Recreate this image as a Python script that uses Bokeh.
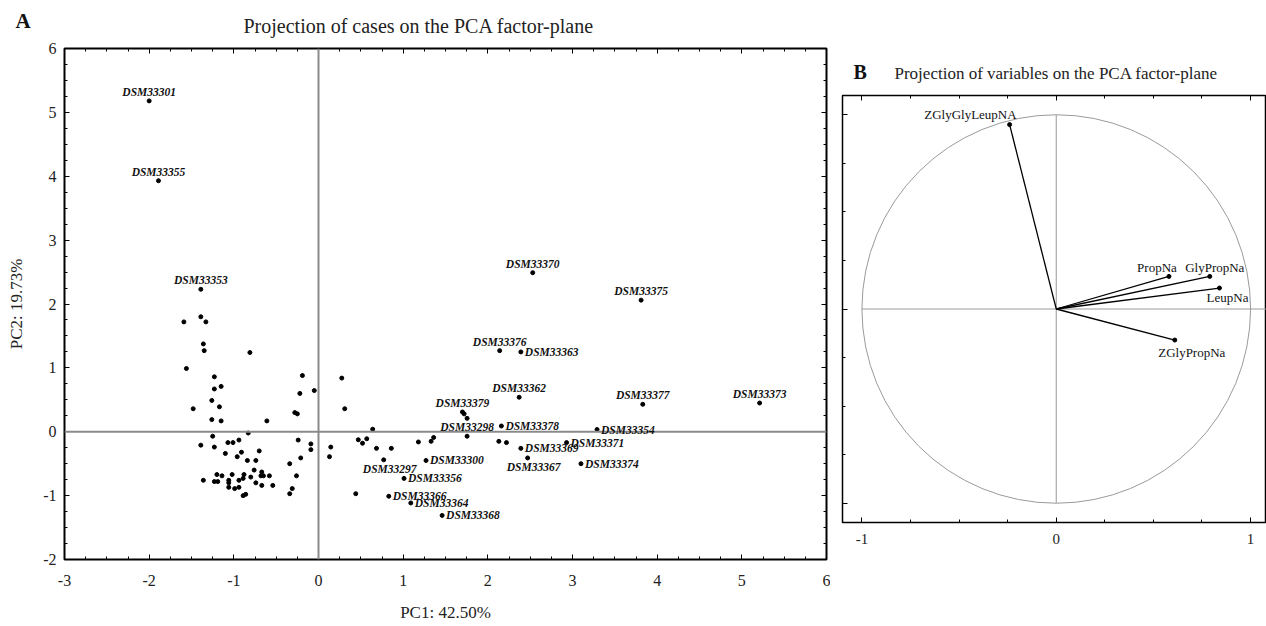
import numpy as np
from bokeh.plotting import figure
from bokeh.models import (Range1d, FixedTicker, LinearAxis, Span, Label, Title,
                          LabelSet, ColumnDataSource)
from bokeh.layouts import row
from bokeh.embed import file_html
from bokeh.resources import INLINE

# ---------------- Panel A data: case scores ----------------
case_names = ["DSM33301", "DSM33355", "DSM33353", "DSM33370", "DSM33375",
              "DSM33376", "DSM33363", "DSM33362", "DSM33377", "DSM33373",
              "DSM33379", "DSM33298", "DSM33378", "DSM33354", "DSM33371",
              "DSM33369", "DSM33367", "DSM33374", "DSM33300", "DSM33356",
              "DSM33366", "DSM33364", "DSM33368", "DSM33297"]
case_pc1 = [-2.00, -1.89, -1.39, 2.53, 3.81,
            2.14, 2.39, 2.37, 3.83, 5.21,
            1.70, 1.755, 2.16, 3.29, 2.93,
            2.39, 2.47, 3.10, 1.27, 1.01,
            0.83, 1.09, 1.46, 0.77]
case_pc2 = [5.18, 3.93, 2.23, 2.49, 2.06,
            1.27, 1.25, 0.54, 0.43, 0.45,
            0.31, -0.07, 0.09, 0.035, -0.17,
            -0.26, -0.41, -0.50, -0.45, -0.73,
            -1.01, -1.115, -1.31, -0.44]

other_pc1 = [-1.59, -1.39, -1.33, -1.36, -1.35, -0.81, -1.56, -1.23, -1.15, -1.23,
             -0.19, -0.05, -0.22, 0.275, 0.31, -1.48, -1.26, -1.17, -1.26, -1.15,
             -0.61, -0.28, -0.25, -0.83, -1.25, -1.39, -1.23, -1.07, -1.01, -0.94,
             -1.10, -0.91, -0.96, -0.70, -0.24, -0.09, -0.09, -0.21, 0.145, 0.13,
             -0.84, -0.74, -0.34, -0.76, -0.67, -1.20, -1.14, -1.02, -0.88, -0.68,
             -0.65, -0.58, -0.80, -0.26, -1.36, -1.23, -1.19, -1.06, -1.06, -0.94,
             -0.89, -0.74, -1.06, -0.99, -0.94, -0.67, -0.54, -0.31, -0.89, -0.86,
             -0.34, 0.44, 0.64, 0.47, 0.52, 0.57, 0.685, 0.86, 1.18, 1.33,
             1.36, 1.72, 1.755, 2.13, 2.22]
other_pc2 = [1.72, 1.80, 1.72, 1.375, 1.27, 1.24, 0.99, 0.86, 0.71, 0.67,
             0.88, 0.645, 0.60, 0.84, 0.36, 0.36, 0.49, 0.39, 0.19, 0.17,
             0.17, 0.30, 0.28, -0.02, -0.07, -0.21, -0.24, -0.17, -0.17, -0.13,
             -0.34, -0.32, -0.39, -0.30, -0.13, -0.19, -0.28, -0.41, -0.24, -0.39,
             -0.45, -0.45, -0.50, -0.60, -0.63, -0.67, -0.69, -0.67, -0.67, -0.69,
             -0.69, -0.69, -0.71, -0.69, -0.76, -0.78, -0.78, -0.76, -0.80, -0.76,
             -0.73, -0.80, -0.87, -0.89, -0.87, -0.84, -0.84, -0.89, -1.00, -0.98,
             -0.97, -0.97, 0.04, -0.125, -0.18, -0.11, -0.26, -0.26, -0.16, -0.15,
             -0.09, 0.28, 0.21, -0.15, -0.17]

x_ticks_a = [-3, -2, -1, 0, 1, 2, 3, 4, 5, 6]
y_ticks_a = [-2, -1, 0, 1, 2, 3, 4, 5, 6]
x_label_a = "PC1: 42.50%"
y_label_a = "PC2: 19.73%"
title_a = "Projection of cases on the PCA factor-plane"

# ---------------- Panel B data: variable loadings ----------------
variables = ["ZGlyGlyLeupNA", "PropNa", "GlyPropNa", "LeupNa", "ZGlyPropNa"]
load_pc1 = [-0.24, 0.58, 0.79, 0.84, 0.61]
load_pc2 = [0.95, 0.168, 0.168, 0.108, -0.16]
x_ticks_b = [-1, 0, 1]
title_b = "Projection of variables on the PCA factor-plane"

# ---------------- layout / style settings ----------------
SERIF = "Liberation Serif"
LABEL_SIDE = {"DSM33363": "right", "DSM33378": "right", "DSM33354": "right",
              "DSM33371": "right", "DSM33369": "right", "DSM33374": "right",
              "DSM33300": "right", "DSM33356": "right", "DSM33366": "right",
              "DSM33364": "right", "DSM33368": "right",
              "DSM33367": "below", "DSM33297": "below"}
SIDE_STYLE = {"above": dict(x_offset=0, y_offset=9, text_align="center"),
              "right": dict(x_offset=4, y_offset=0, text_align="left"),
              "below": dict(x_offset=6, y_offset=-9, text_align="center")}
VAR_LABEL_STYLE = {"ZGlyGlyLeupNA": (7, 10, "right"),
                   "PropNa": (-12, 9, "center"),
                   "GlyPropNa": (5, 9, "center"),
                   "LeupNa": (8, -9, "center"),
                   "ZGlyPropNa": (17, -12, "center")}


def style_axis(ax, fs, standoff, ticks=None, labels=True):
    ax.major_tick_in = 5
    ax.major_tick_out = 0
    ax.minor_tick_in = 3
    ax.minor_tick_out = 0
    ax.axis_line_color = "black"
    ax.major_tick_line_color = "black"
    ax.minor_tick_line_color = "black"
    ax.major_label_text_font = SERIF
    if labels:
        ax.major_label_text_color = "#222222"
        ax.major_label_text_font_size = fs
        ax.major_label_standoff = standoff
        if ticks is not None:
            ax.major_label_overrides = {t: str(t) for t in ticks}
    else:
        ax.major_label_text_color = None
        ax.major_label_text_font_size = "1px"
        ax.major_label_standoff = 0


def no_frame_align(p):
    if "frame_align" in p.properties():
        p.frame_align = False


def make_title(text, size, bold, offset, standoff):
    t = Title(text=text, align="left", offset=offset, text_font=SERIF,
              text_font_size=size, text_font_style="bold" if bold else "normal",
              text_color="#111111" if bold else "#222222")
    try:
        t.standoff = standoff
    except Exception:
        t.standoff = 0
    return t


# ================= Panel A =================
pA = figure(width=830, height=626, x_range=Range1d(-3, 6), y_range=Range1d(-2, 6),
            output_backend="svg", toolbar_location=None, title=None,
            min_border_left=64, min_border_right=4, min_border_top=48,
            min_border_bottom=67)
no_frame_align(pA)
pA.grid.visible = False
pA.outline_line_color = "black"
pA.outline_line_width = 2
pA.background_fill_color = "white"
pA.border_fill_color = "white"

xminor_a = [v / 4 for v in range(-12, 25) if v % 4 != 0]
yminor_a = [v / 4 for v in range(-8, 25) if v % 4 != 0]
pA.xaxis.ticker = FixedTicker(ticks=x_ticks_a, minor_ticks=xminor_a)
pA.yaxis.ticker = FixedTicker(ticks=y_ticks_a, minor_ticks=yminor_a)
for ax in pA.xaxis:
    style_axis(ax, "16px", 15, ticks=x_ticks_a)
    ax.axis_label = x_label_a
for ax in pA.yaxis:
    style_axis(ax, "16px", 8, ticks=y_ticks_a)
    ax.axis_label = y_label_a
for ax in list(pA.xaxis) + list(pA.yaxis):
    ax.axis_label_text_font = SERIF
    ax.axis_label_text_font_size = "17px"
    ax.axis_label_text_font_style = "normal"
    ax.axis_label_text_color = "#222222"
pA.xaxis.axis_label_standoff = 14
pA.yaxis.axis_label_standoff = 14
pA.yaxis.major_label_orientation = "horizontal"

top_a = LinearAxis(ticker=FixedTicker(ticks=x_ticks_a, minor_ticks=xminor_a))
style_axis(top_a, "1px", 0, labels=False)
pA.add_layout(top_a, "above")
right_a = LinearAxis(ticker=FixedTicker(ticks=y_ticks_a, minor_ticks=yminor_a))
style_axis(right_a, "1px", 0, labels=False)
pA.add_layout(right_a, "right")

# title row: main title nearest the frame, panel letter stacked outside it
pA.add_layout(make_title(title_a, "20px", False, 179, 24), "above")
pA.add_layout(make_title("A", "21px", True, -49, -64), "above")

pA.add_layout(Span(location=0, dimension="height", line_color="#8a8a8a", line_width=2))
pA.add_layout(Span(location=0, dimension="width", line_color="#8a8a8a", line_width=2))

pA.scatter(other_pc1, other_pc2, marker="circle", size=4, color="black")
pA.scatter(case_pc1, case_pc2, marker="circle", size=4, color="black")

for side, st in SIDE_STYLE.items():
    idx = [i for i, n in enumerate(case_names) if LABEL_SIDE.get(n, "above") == side]
    src = ColumnDataSource(dict(x=[case_pc1[i] for i in idx],
                                y=[case_pc2[i] for i in idx],
                                t=[case_names[i] for i in idx]))
    pA.add_layout(LabelSet(x="x", y="y", text="t", source=src,
                           x_offset=st["x_offset"], y_offset=st["y_offset"],
                           text_align=st["text_align"], text_baseline="middle",
                           text_font=SERIF, text_font_size="11.5px",
                           text_font_style="bold italic", text_color="#111111"))

# ================= Panel B =================
pB = figure(width=436, height=626, x_range=Range1d(-1.1, 1.082), y_range=Range1d(-1.1, 1.1),
            output_backend="svg", toolbar_location=None, title=None,
            min_border_left=12, min_border_right=0, min_border_top=95,
            min_border_bottom=104)
no_frame_align(pB)
pB.grid.visible = False
pB.outline_line_color = "black"
pB.outline_line_width = 1.5
pB.background_fill_color = "white"
pB.border_fill_color = "white"

minor_b = [-0.75, -0.5, -0.25, 0.25, 0.5, 0.75]
pB.xaxis.ticker = FixedTicker(ticks=x_ticks_b, minor_ticks=minor_b)
pB.yaxis.ticker = FixedTicker(ticks=x_ticks_b, minor_ticks=minor_b)
for ax in pB.xaxis:
    style_axis(ax, "15px", 11, ticks=x_ticks_b)
for ax in pB.yaxis:
    style_axis(ax, "1px", 0, labels=False)
top_b = LinearAxis(ticker=FixedTicker(ticks=x_ticks_b, minor_ticks=minor_b))
style_axis(top_b, "1px", 0, labels=False)
pB.add_layout(top_b, "above")

pB.add_layout(make_title(title_b, "17px", False, 52, 26), "above")
pB.add_layout(make_title("B", "20px", True, 11, -68), "above")

pB.circle(x=[0], y=[0], radius=1, fill_color=None, line_color="#9a9a9a", line_width=1)
pB.segment(x0=[-1, 0], y0=[0, -1], x1=[1.1, 0], y1=[0, 1],
           line_color="#9a9a9a", line_width=1)
pB.segment(x0=[0] * len(variables), y0=[0] * len(variables), x1=load_pc1, y1=load_pc2,
           line_color="black", line_width=1.3)
pB.scatter(load_pc1, load_pc2, marker="circle", size=4, color="black")

for name, x, y in zip(variables, load_pc1, load_pc2):
    dx, dy, al = VAR_LABEL_STYLE[name]
    pB.add_layout(Label(x=x, y=y, text=name, x_offset=dx, y_offset=dy,
                        text_align=al, text_baseline="middle",
                        text_font=SERIF, text_font_size="13px", text_color="#111111"))

layout = row(pA, pB)
open("out.html", "w").write(file_html(layout, INLINE))
